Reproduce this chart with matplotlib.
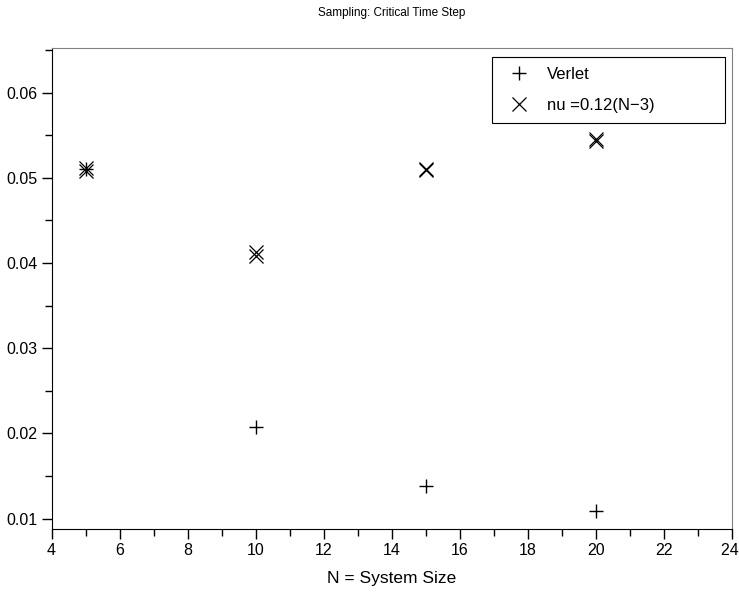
import numpy as np
import matplotlib.pyplot as plt
from matplotlib.ticker import MultipleLocator, FuncFormatter

plt.rcParams['font.family'] = ['Liberation Sans', 'DejaVu Sans']

# 数据
N_verlet = [5, 10, 15, 20]
dt_verlet = [0.0510, 0.0207, 0.0138, 0.0109]

N_nu = [5, 5, 10, 10, 15, 15, 20, 20]
dt_nu = [0.0508, 0.0511, 0.0408, 0.0413, 0.0509, 0.0510, 0.0543, 0.0546]

fig = plt.figure(figsize=(7.39, 5.95), dpi=100)
ax = fig.add_axes([51.5 / 739, 1 - 529.3 / 595, 680.5 / 739, 481 / 595])

ax.plot(N_verlet, dt_verlet, '+', color='black', ms=9.5, mew=1.0, label='Verlet')
ax.plot(N_nu, dt_nu, 'x', color='black', ms=10, mew=0.9, label='nu =0.12(N\u22123)')

ax.set_xlim(4, 24)
ax.set_ylim(0.00875, 0.0652)
ax.xaxis.set_major_locator(MultipleLocator(2))
ax.xaxis.set_minor_locator(MultipleLocator(1))
ax.yaxis.set_major_locator(MultipleLocator(0.01))
ax.yaxis.set_minor_locator(MultipleLocator(0.005))
ax.tick_params(which='major', direction='out', length=7, width=1, labelsize=11.5, pad=3)
ax.tick_params(which='minor', direction='out', length=5, width=1)
ax.tick_params(top=False, right=False)
ax.yaxis.set_major_formatter(FuncFormatter(lambda v, p: '{:.2f}'.format(v)))


# 最右侧刻度标签加一个空格，略微左移，避免被裁掉
def xfmt(v, p):
    s = '{:g}'.format(v)
    if abs(v - 24) < 1e-9:
        s += ' '
    return s


ax.xaxis.set_major_formatter(FuncFormatter(xfmt))

for s in ['top', 'right']:
    ax.spines[s].set_color('#808080')

ax.set_title('Sampling: Critical Time Step', fontsize=8.5, pad=23)
ax.set_xlabel('N = System Size', fontsize=12.5, labelpad=9)

# 图例，固定宽度
leg = ax.legend(loc='upper left', bbox_to_anchor=(0.647, 0, 0.343, 0.982),
                mode='expand', borderaxespad=0, fontsize=12, fancybox=False,
                framealpha=1, edgecolor='black', handlelength=2.0,
                handletextpad=0.7, borderpad=0.62, labelspacing=0.95)
leg.get_frame().set_linewidth(0.8)

plt.savefig('out.png', dpi=100)
